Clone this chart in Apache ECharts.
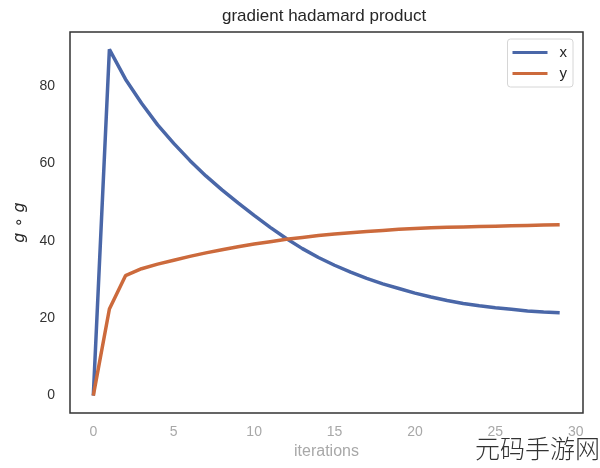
<!DOCTYPE html>
<html>
<head>
<meta charset="utf-8">
<script src="https://cdn.jsdelivr.net/npm/echarts@6/dist/echarts.min.js"></script>
<style>
  html, body { margin: 0; padding: 0; background: #fff; }
  #chart { width: 600px; height: 468px; }
</style>
</head>
<body>
<div id="chart"></div>
<script>
const iterations = [0,1,2,3,4,5,6,7,8,9,10,11,12,13,14,15,16,17,18,19,20,21,22,23,24,25,26,27,28,29];
const xValues = [0, 89.5, 81.8, 75.6, 70.0, 65.2, 60.8, 56.8, 53.2, 49.8, 46.6, 43.5, 40.6, 38.0, 35.7, 33.7, 31.9, 30.3, 28.9, 27.7, 26.5, 25.5, 24.6, 23.8, 23.2, 22.7, 22.3, 21.9, 21.6, 21.4];
const yValues = [0, 22.4, 31.0, 32.8, 34.0, 35.0, 36.0, 36.9, 37.7, 38.5, 39.2, 39.8, 40.4, 40.9, 41.4, 41.8, 42.1, 42.4, 42.7, 43.0, 43.2, 43.4, 43.5, 43.6, 43.7, 43.8, 43.9, 44.0, 44.1, 44.2];
const xTicks = [0, 5, 10, 15, 20, 25, 30];
const yTicks = [0, 20, 40, 60, 80];

const chart = echarts.init(document.getElementById('chart'), null, { renderer: 'canvas' });
const font = 'Liberation Sans, Arial, sans-serif';
chart.setOption({
  animation: false,
  backgroundColor: '#ffffff',
  title: {
    text: 'gradient hadamard product',
    left: 222, top: 8, padding: 0,
    textStyle: { fontFamily: font, fontSize: 17, fontWeight: 'normal', color: '#262626' }
  },
  legend: {
    orient: 'vertical',
    right: 27, top: 39,
    padding: [6, 6, 6, 5],
    itemGap: 6,
    itemWidth: 35, itemHeight: 3,
    icon: 'rect',
    backgroundColor: '#ffffff',
    borderColor: '#d6d6d6', borderWidth: 1, borderRadius: 3,
    textStyle: { fontFamily: font, fontSize: 15, color: '#262626', padding: [0, 0, 0, 7] },
    data: ['x', 'y']
  },
  grid: { left: 70, right: 17, top: 32, bottom: 55, show: true, borderColor: '#333333', borderWidth: 1.5, backgroundColor: '#ffffff' },
  xAxis: {
    type: 'value', min: -1.45, max: 30.45,
    name: 'iterations', nameLocation: 'middle', nameGap: 31,
    nameTextStyle: { fontFamily: font, fontSize: 16, color: '#a8a8a8' },
    axisLine: { show: false }, axisTick: { show: false }, splitLine: { show: false },
    axisLabel: { customValues: xTicks, fontFamily: font, fontSize: 14, color: '#a8a8a8', margin: 12 }
  },
  yAxis: {
    type: 'value', min: -4.5, max: 94,
    name: 'g ∘ g', nameLocation: 'middle', nameGap: 42,
    nameTextStyle: { fontFamily: 'DejaVu Sans, sans-serif', fontStyle: 'italic', fontSize: 16, color: '#262626' },
    axisLine: { show: false }, axisTick: { show: false }, splitLine: { show: false },
    axisLabel: { customValues: yTicks, fontFamily: font, fontSize: 14, color: '#333333', margin: 15 }
  },
  graphic: [{
    type: 'text', left: 475, top: 436,
    style: { text: '元码手游网', font: '300 25px "Noto Sans CJK SC"', fill: '#333333' }
  }],
  series: [
    { name: 'x', type: 'line', showSymbol: false, symbol: 'none',
      data: iterations.map((it, i) => [it, xValues[i]]),
      lineStyle: { width: 3.5, color: '#4a67a8' }, itemStyle: { color: '#4a67a8' } },
    { name: 'y', type: 'line', showSymbol: false, symbol: 'none',
      data: iterations.map((it, i) => [it, yValues[i]]),
      lineStyle: { width: 3.5, color: '#cc6a3c' }, itemStyle: { color: '#cc6a3c' } }
  ]
});
</script>
</body>
</html>
